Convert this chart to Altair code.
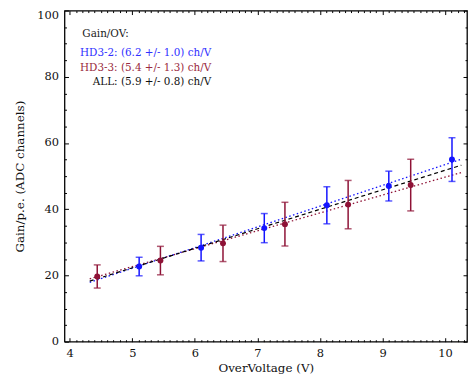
import altair as alt
import pandas as pd

# ---- data ----
hd32_ov = [5.11, 6.10, 7.11, 8.11, 9.10, 10.11]
hd32_gain = [22.7, 28.4, 34.3, 41.2, 47.0, 55.0]
hd32_err = [2.8, 4.0, 4.4, 5.6, 4.5, 6.6]

hd33_ov = [4.44, 5.45, 6.45, 7.44, 8.45, 9.45]
hd33_gain = [19.7, 24.5, 29.7, 35.5, 41.4, 47.3]
hd33_err = [3.5, 4.3, 5.5, 6.6, 7.3, 7.8]

fit_ov = [4.32, 10.26]
fit_hd32 = [17.9, 55.1]
fit_hd33 = [19.0, 51.1]
fit_all = [18.3, 53.3]

legend_lines = ["Gain/OV:",
                "HD3-2: (6.2 +/- 1.0) ch/V",
                "HD3-3: (5.4 +/- 1.3) ch/V",
                "ALL: (5.9 +/- 0.8) ch/V"]

x_major = [4, 5, 6, 7, 8, 9, 10]
y_major = [0, 20, 40, 60, 80, 100]
x_ticks = [round(v / 10, 1) for v in range(40, 104)]
y_ticks = list(range(0, 101, 5))

BLUE = "#1414ff"
RED = "#8e1236"
BLUE_TXT = "#3030ff"
RED_TXT = "#9a2a40"
FONT = "DejaVu Serif"

pts = pd.DataFrame({
    "ov": hd32_ov + hd33_ov,
    "gain": hd32_gain + hd33_gain,
    "lo": [g - e for g, e in zip(hd32_gain, hd32_err)] + [g - e for g, e in zip(hd33_gain, hd33_err)],
    "hi": [g + e for g, e in zip(hd32_gain, hd32_err)] + [g + e for g, e in zip(hd33_gain, hd33_err)],
    "set": ["HD3-2"] * len(hd32_ov) + ["HD3-3"] * len(hd33_ov),
})
fits = pd.DataFrame({
    "ov": fit_ov * 3,
    "gain": fit_hd32 + fit_hd33 + fit_all,
    "set": ["HD3-2"] * 2 + ["HD3-3"] * 2 + ["ALL"] * 2,
})

xscale = alt.Scale(domain=[3.917, 10.35], nice=False, zero=False)
yscale = alt.Scale(domain=[0, 100], nice=False)

x_minor_test = "abs(datum.value - round(datum.value)) > 0.001"
y_minor_test = "datum.value % 20 !== 0"

def tick_props(test):
    return dict(
        tickSize=4, tickColor="black", tickWidth=1,
        tickDash={"condition": {"test": test, "value": [2, 2]}, "value": [10, 0]},
        tickDashOffset={"condition": {"test": test, "value": 2}, "value": 0},
        domain=False, grid=False, offset=-4,
    )

x_axis = alt.Axis(values=x_ticks, title="OverVoltage (V)",
                  labelExpr="abs(datum.value - round(datum.value)) < 0.001 ? format(datum.value, 'd') : ''",
                  labelOverlap=False, labelFlush=False, labelPadding=6, titlePadding=4,
                  **tick_props(x_minor_test))
y_axis = alt.Axis(values=y_ticks, title="Gain/p.e. (ADC channels)",
                  labelExpr="datum.value % 20 === 0 ? format(datum.value, 'd') : ''",
                  labelBaseline={"condition": {"test": "datum.value === 100", "value": "top"}, "value": "middle"},
                  labelOffset={"condition": {"test": "datum.value === 100", "value": -1}, "value": 0},
                  labelOverlap=False, labelFlush=False, labelPadding=6, titlePadding=10,
                  **tick_props(y_minor_test))

def X():
    return alt.X("ov:Q", scale=xscale, axis=x_axis)

def Y(field):
    return alt.Y(f"{field}:Q", scale=yscale, axis=y_axis)

color_scale = alt.Scale(domain=["HD3-2", "HD3-3", "ALL"], range=[BLUE, RED, "black"])
col = alt.Color("set:N", scale=color_scale, legend=None)

base_pts = alt.Chart(pts)

fit_blue = alt.Chart(fits).transform_filter("datum.set === 'HD3-2'").mark_line(
    color=BLUE, strokeDash=[1.5, 2.5], strokeWidth=1.3
).encode(x=X(), y=Y("gain"))
fit_red = alt.Chart(fits).transform_filter("datum.set === 'HD3-3'").mark_line(
    color=RED, strokeDash=[1.5, 2.5], strokeWidth=1.3
).encode(x=X(), y=Y("gain"))
fit_all_l = alt.Chart(fits).transform_filter("datum.set === 'ALL'").mark_line(
    color="black", strokeDash=[4, 3], strokeWidth=1.2
).encode(x=X(), y=Y("gain"))

bars = base_pts.mark_rule(strokeWidth=1.5).encode(x=X(), y=Y("lo"), y2="hi:Q", color=col)
caps_lo = base_pts.mark_tick(orient="horizontal", size=7, thickness=1.5).encode(x=X(), y=Y("lo"), color=col)
caps_hi = base_pts.mark_tick(orient="horizontal", size=7, thickness=1.5).encode(x=X(), y=Y("hi"), color=col)
dots = base_pts.mark_circle(size=36, opacity=1).encode(x=X(), y=Y("gain"), color=col)

def label(txt, x, y, color, align):
    return alt.Chart(pd.DataFrame({"t": [txt]})).mark_text(
        font=FONT, fontSize=10.5, align=align, baseline="middle", color=color
    ).encode(text="t:N", x=alt.value(x), y=alt.value(y))

texts = [
    label(legend_lines[0], 18, 24, "#222222", "left"),
    label(legend_lines[1], 148, 43, BLUE_TXT, "right"),
    label(legend_lines[2], 148, 58, RED_TXT, "right"),
    label(legend_lines[3], 148, 72, "#111111", "right"),
]

main = alt.layer(fit_red, fit_blue, fit_all_l, bars, caps_lo, caps_hi, dots, *texts)

frame = base_pts.mark_point(opacity=0).encode(
    x=alt.X("ov:Q", scale=xscale,
            axis=alt.Axis(orient="top", values=x_ticks, labels=False, title=None, **tick_props(x_minor_test))),
    y=alt.Y("gain:Q", scale=yscale,
            axis=alt.Axis(orient="right", values=y_ticks, labels=False, title=None, **tick_props(y_minor_test))),
)

chart = alt.layer(main, frame).resolve_axis(x="independent", y="independent").properties(
    width=406, height=334, background="white",
    padding={"left": 6, "top": 0, "right": 0, "bottom": 0},
).configure_view(stroke="black", strokeWidth=1.3).configure_axis(
    labelFont=FONT, labelFontSize=11.5, labelColor="#111111",
    titleFont=FONT, titleFontSize=12, titleFontWeight="normal", titleColor="#111111",
)

chart.save("out.html", embed_options={"renderer": "svg", "actions": False})
